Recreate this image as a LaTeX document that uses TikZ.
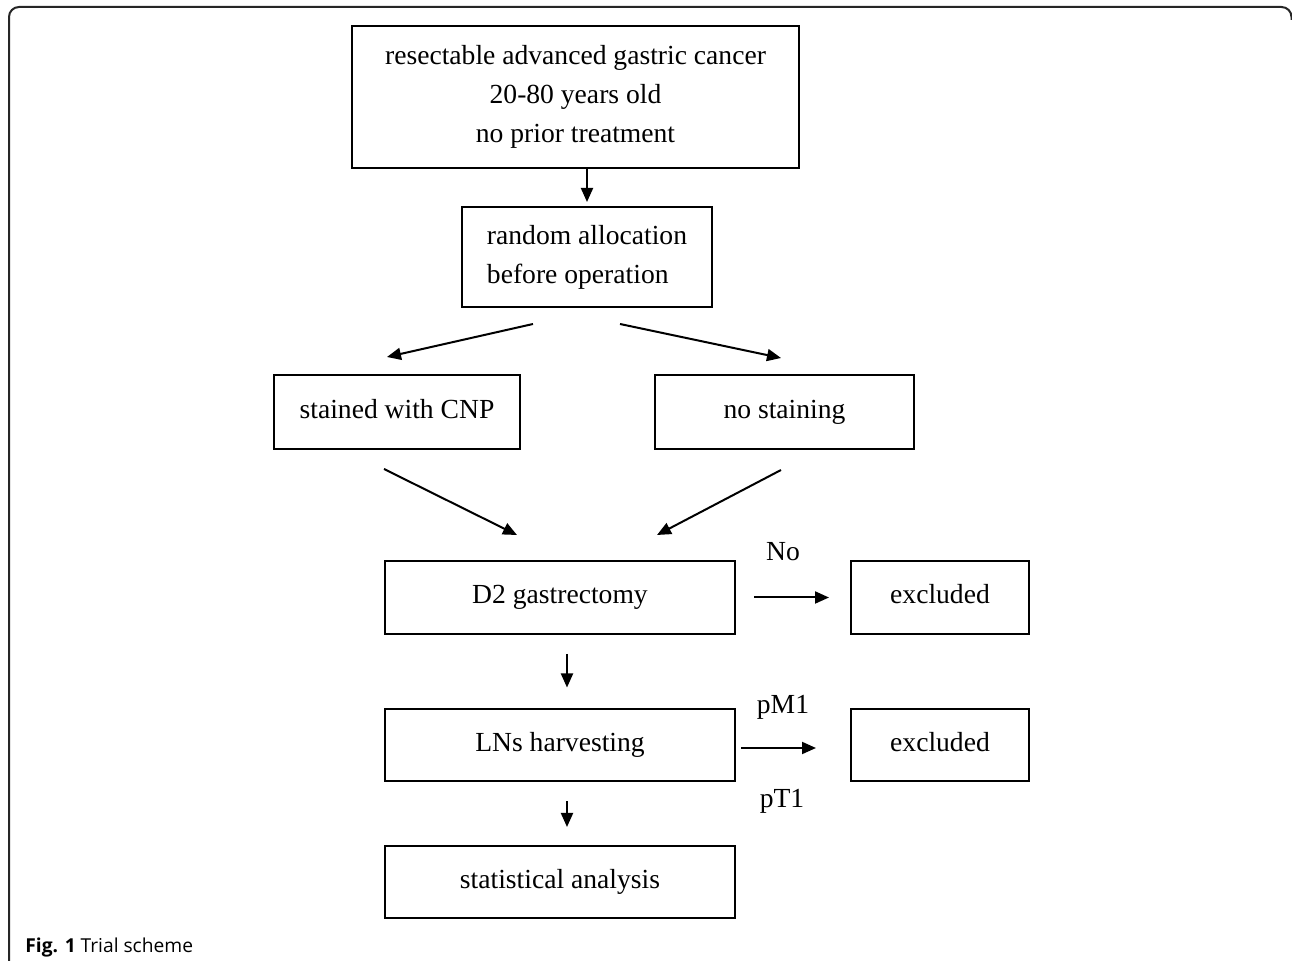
\documentclass[tikz,border=0pt]{standalone}
\usepackage{fontspec}
\setmainfont{Liberation Serif}
\newfontfamily\capfont{Open Sans}
\usetikzlibrary{arrows.meta}
\tikzset{
  box/.style={draw, line width=1pt, inner sep=0pt, font=\fontsize{13.8}{19.5}\selectfont},
  one/.style={box, text height=9.5pt, text depth=3pt},
  flow/.style={-{Triangle[length=7pt,width=6pt]}, line width=1pt},
  lbl/.style={font=\fontsize{13.8}{16}\selectfont}
}
\begin{document}
\begin{tikzpicture}[x=0.5pt, y=-0.5pt]
      \useasboundingbox (0,0) rectangle (1292,961);
      \draw[line width=1pt, black!85, rounded corners=5pt] (9,961) -- (9,7) -- (1291.5,7) -- (1291.5,20);
      % boxes
      \node[box, minimum width=223.5pt, minimum height=71pt, align=center] (top) at (575.5,97)
            {resectable advanced gastric cancer\\20-80 years old\\no prior treatment};
      \node[box, minimum width=125pt, minimum height=50pt, align=left] (rand) at (587,257)
            {random allocation\\before operation};
      \node[one, minimum width=123pt, minimum height=37pt] (stained) at (397,412) {stained with CNP};
      \node[one, minimum width=129.5pt, minimum height=37pt] (nostain) at (784.5,412) {no staining};
      \node[one, minimum width=175pt, minimum height=36.5pt] (d2) at (560,597.5) {D2 gastrectomy};
      \node[one, minimum width=89pt, minimum height=36.5pt] (exc1) at (940,597.5) {excluded};
      \node[one, minimum width=175pt, minimum height=36pt] (lns) at (560,745.5) {LNs harvesting};
      \node[one, minimum width=89pt, minimum height=36pt] (exc2) at (940,745.5) {excluded};
      \node[one, minimum width=175pt, minimum height=36pt] (stats) at (560,882) {statistical analysis};
      % labels
      \node[lbl] (no) at (783,552) {No};
      \node[lbl] (pm) at (783,707) {pM1};
      \node[lbl] (pt) at (782,801) {pT1};
      \node[anchor=base west, inner sep=0pt, font=\capfont\fontsize{9.6}{11}\selectfont] (cap) at (25,953)
            {\textbf{Fig. 1} Trial scheme};
      % arrows
      \draw[flow] (top.south -| rand.north) -- ([yshift=2pt]rand.north);
      \draw[flow] ([xshift=-27pt, yshift=-8pt]rand.south) -- ([xshift=-5pt, yshift=8.5pt]stained.north);
      \draw[flow] ([xshift=16.5pt, yshift=-8pt]rand.south) -- ([xshift=-1.75pt, yshift=8pt]nostain.north);
      \draw[flow] ([xshift=-6.5pt, yshift=-9.5pt]stained.south) -- ([xshift=-21.5pt, yshift=12.5pt]d2.north);
      \draw[flow] ([xshift=-1.75pt, yshift=-10pt]nostain.south) -- ([xshift=48.5pt, yshift=12.5pt]d2.north);
      \draw[flow] ([xshift=9pt]d2.east) -- ([xshift=-10.5pt]exc1.west);
      \draw[flow] ([xshift=3.5pt, yshift=-9.5pt]d2.south) -- ([xshift=3.5pt, yshift=10.5pt]lns.north);
      \draw[flow] ([xshift=2.5pt, yshift=-1.25pt]lns.east) -- ([xshift=-17pt, yshift=-1.25pt]exc2.west);
      \draw[flow] ([xshift=3.5pt, yshift=-9.5pt]lns.south) -- ([xshift=3.5pt, yshift=9pt]stats.north);
\end{tikzpicture}
\end{document}
